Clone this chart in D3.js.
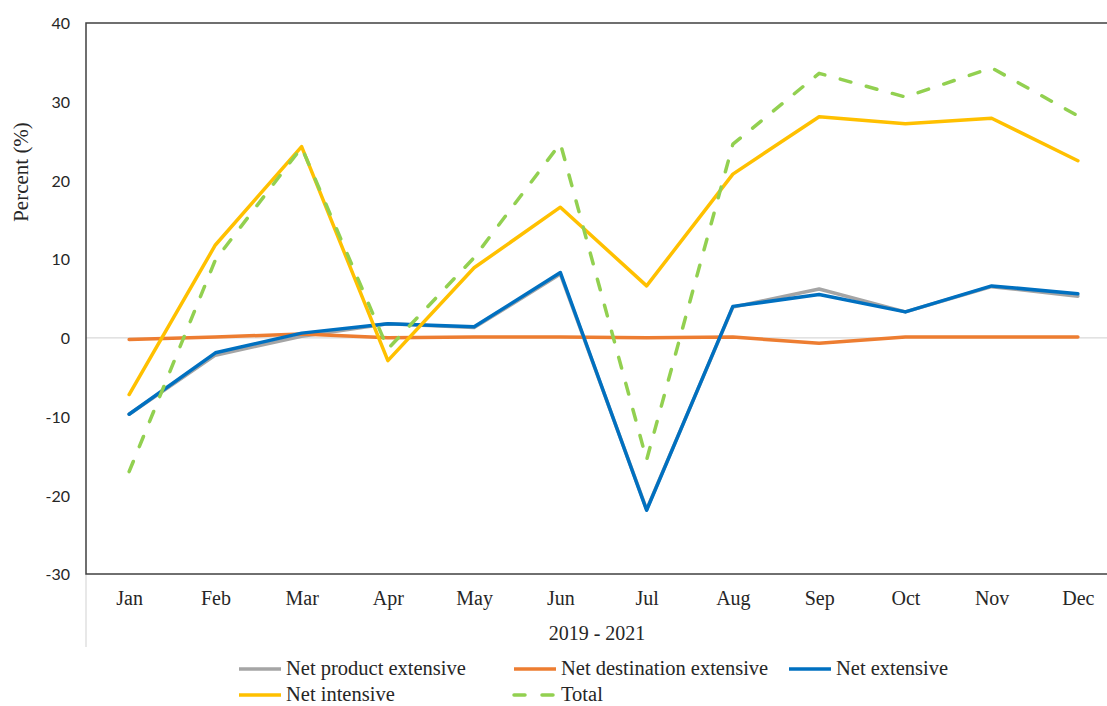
<!DOCTYPE html>
<html>
<head>
<meta charset="utf-8">
<script src="https://cdn.jsdelivr.net/npm/d3@7"></script>
<style>
  html, body { margin: 0; padding: 0; background: #fff; }
  svg { display: block; }
</style>
</head>
<body>
<svg id="chart" width="1107" height="706"></svg>
<script>
// Monthly decomposition of export growth, 2019 - 2021 (percent)
const months = ["Jan","Feb","Mar","Apr","May","Jun","Jul","Aug","Sep","Oct","Nov","Dec"];
const yTicks = [-30, -20, -10, 0, 10, 20, 30, 40];

const netProductExtensive     = [-9.7, -2.2, 0.2, 1.8, 1.3, 8.1, -21.8, 3.9, 6.2, 3.3, 6.5, 5.3];
const netDestinationExtensive = [-0.2, 0.1, 0.5, 0.0, 0.1, 0.1, 0.0, 0.1, -0.7, 0.1, 0.1, 0.1];
const netExtensive            = [-9.7, -1.9, 0.6, 1.8, 1.4, 8.3, -21.9, 4.0, 5.5, 3.3, 6.6, 5.6];
const netIntensive            = [-7.2, 11.8, 24.3, -2.9, 8.9, 16.6, 6.6, 20.8, 28.1, 27.2, 27.9, 22.5];
const total                   = [-17.0, 9.9, 24.2, -1.4, 10.2, 24.7, -15.5, 24.6, 33.6, 30.6, 34.3, 28.2];

const series = [
  { name: "Net product extensive",     values: netProductExtensive,     color: "#A5A5A5", dash: null },
  { name: "Net destination extensive", values: netDestinationExtensive, color: "#ED7D31", dash: null },
  { name: "Net extensive",             values: netExtensive,            color: "#0070C0", dash: null },
  { name: "Net intensive",             values: netIntensive,            color: "#FFC000", dash: null },
  { name: "Total",                     values: total,                   color: "#92D050", dash: "11,16" }
];

const svg = d3.select("#chart");
const W = 1107, H = 706;
const plot = { left: 86, top: 23, right: 1121, bottom: 574 };

const x = d3.scalePoint().domain(months).range([plot.left, plot.right]).padding(0.5);
const y = d3.scaleLinear().domain([-30, 40]).range([plot.bottom, plot.top]);

const serif = "'Liberation Serif', 'Times New Roman', serif";
const sans = "Lato, 'Liberation Sans', sans-serif";

// zero reference line
svg.append("line")
  .attr("x1", plot.left).attr("x2", W)
  .attr("y1", y(0)).attr("y2", y(0))
  .attr("stroke", "#D9D9D9").attr("stroke-width", 1.2);

// category-axis extension below the plot
svg.append("line")
  .attr("x1", plot.left).attr("x2", plot.left)
  .attr("y1", plot.bottom).attr("y2", 647)
  .attr("stroke", "#D9D9D9").attr("stroke-width", 1.2);

// plot frame
svg.append("rect")
  .attr("x", plot.left).attr("y", plot.top)
  .attr("width", plot.right - plot.left + 20).attr("height", plot.bottom - plot.top)
  .attr("fill", "none").attr("stroke", "#404040").attr("stroke-width", 1.5);

// y-axis tick labels (plain hyphen for negatives)
const yAxis = d3.axisLeft(y).tickValues(yTicks).tickFormat(d => String(d)).tickSize(0).tickPadding(16);
const gy = svg.append("g").attr("transform", `translate(${plot.left},0)`).call(yAxis);
gy.select(".domain").remove();
gy.selectAll("text")
  .attr("font-family", sans).attr("font-size", 16).attr("fill", "#262626")
  .attr("dy", "0.36em");

// x-axis month labels
const xAxis = d3.axisBottom(x).tickSize(0).tickPadding(0);
const gx = svg.append("g").attr("transform", `translate(0,${plot.bottom})`).call(xAxis);
gx.select(".domain").remove();
gx.selectAll("text")
  .attr("font-family", serif).attr("font-size", 20).attr("fill", "#262626")
  .attr("dy", null).attr("y", 31);

// axis titles
svg.append("text")
  .attr("x", 597).attr("y", 640)
  .attr("text-anchor", "middle")
  .attr("font-family", serif).attr("font-size", 20).attr("fill", "#262626")
  .text("2019 - 2021");

svg.append("text")
  .attr("transform", "translate(28,172) rotate(-90)")
  .attr("text-anchor", "middle")
  .attr("font-family", serif).attr("font-size", 21).attr("fill", "#262626")
  .text("Percent (%)");

// series lines
const line = d3.line()
  .x((d, i) => x(months[i]))
  .y(d => y(d));

svg.append("g").selectAll("path")
  .data(series)
  .join("path")
  .attr("d", d => line(d.values))
  .attr("fill", "none")
  .attr("stroke", d => d.color)
  .attr("stroke-width", 3.5)
  .attr("stroke-linejoin", "round")
  .attr("stroke-linecap", "round")
  .attr("stroke-dasharray", d => d.dash);

// legend
const legendPos = [
  { x: 237, y: 669 }, { x: 512, y: 669 }, { x: 787, y: 669 },
  { x: 237, y: 695 }, { x: 512, y: 695 }
];
const lg = svg.append("g").selectAll("g")
  .data(series)
  .join("g")
  .attr("transform", (d, i) => `translate(${legendPos[i].x},${legendPos[i].y})`);

lg.append("line")
  .attr("x1", 2).attr("x2", d => d.dash ? 43 : 44)
  .attr("y1", 0).attr("y2", 0)
  .attr("stroke", d => d.color)
  .attr("stroke-width", 3.5)
  .attr("stroke-linecap", d => d.dash ? "round" : "butt")
  .attr("stroke-dasharray", d => d.dash ? "11,17" : null);

lg.append("text")
  .attr("x", 49).attr("y", 6)
  .attr("font-family", serif).attr("font-size", 20.5).attr("fill", "#262626")
  .text(d => d.name);
</script>
</body>
</html>
